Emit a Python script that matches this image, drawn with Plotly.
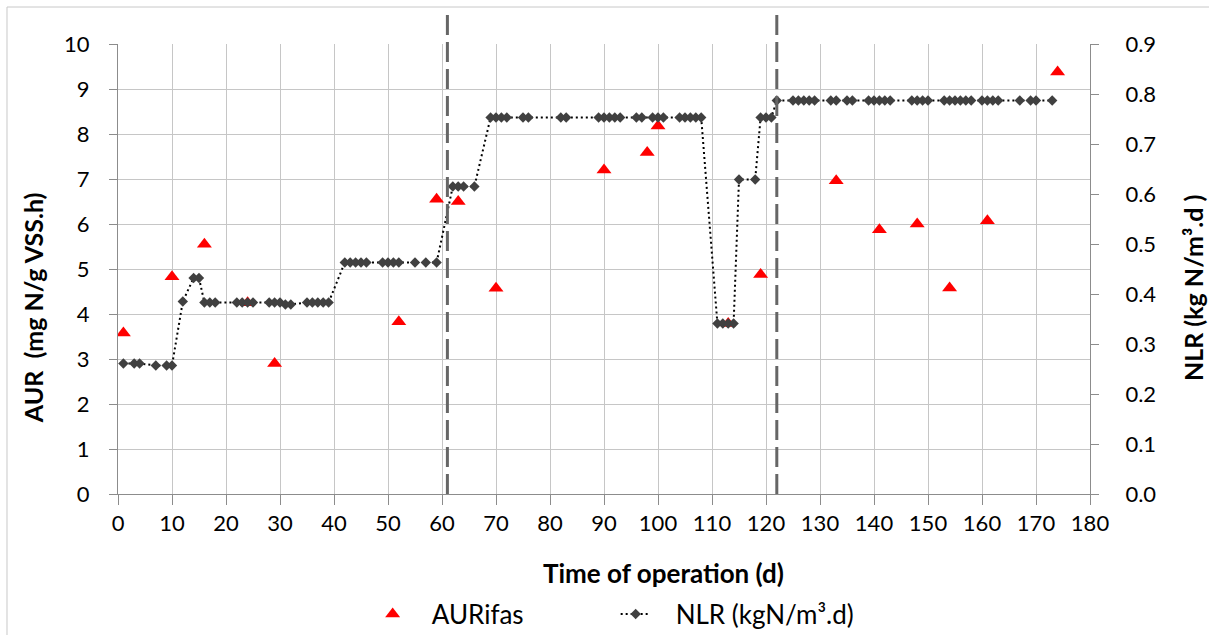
import plotly.graph_objects as go

# Ammonia uptake rate measurements (IFAS reactor)
aur_day = [1, 10, 16, 24, 29, 52, 59, 63, 70, 90, 98, 100, 113, 119, 133, 141, 148, 154, 161, 174]
aur_val = [3.58, 4.83, 5.55, 4.25, 2.9, 3.83, 6.55, 6.5, 4.57, 7.2, 7.59, 8.18, 3.79, 4.88,
           6.96, 5.87, 6.0, 4.58, 6.07, 9.38]

# Nitrogen loading rate applied over time
nlr_day = [1, 3, 4, 7, 9, 10, 12, 14, 15, 16, 17, 18, 22, 23, 24, 25, 28, 29, 30, 31, 32,
           35, 36, 37, 38, 39, 42, 43, 44, 45, 46, 49, 50, 51, 52, 55, 57, 59,
           62, 63, 64, 66, 69, 70, 71, 72, 75, 76, 82, 83, 89, 90, 91, 92, 93, 96, 97,
           99, 100, 101, 104, 105, 106, 107, 108, 111, 112, 113, 114, 115, 118,
           119, 120, 121, 122, 125, 126, 127, 128, 129, 132, 133, 135, 136,
           139, 140, 141, 142, 143, 147, 148, 149, 150, 153, 154, 155, 156, 157, 158,
           160, 161, 162, 163, 167, 169, 170, 173]
nlr_val = [0.261, 0.261, 0.261, 0.257, 0.257, 0.257, 0.385, 0.432, 0.432, 0.383, 0.383, 0.383,
           0.383, 0.383, 0.383, 0.383, 0.383, 0.383, 0.383, 0.379, 0.379,
           0.383, 0.383, 0.383, 0.383, 0.383, 0.463, 0.463, 0.463, 0.463, 0.463,
           0.463, 0.463, 0.463, 0.463, 0.463, 0.463, 0.463,
           0.615, 0.615, 0.615, 0.615, 0.753, 0.753, 0.753, 0.753, 0.753, 0.753, 0.753, 0.753,
           0.753, 0.753, 0.753, 0.753, 0.753, 0.753, 0.753, 0.753, 0.753, 0.753,
           0.753, 0.753, 0.753, 0.753, 0.753, 0.341, 0.341, 0.341, 0.341, 0.629, 0.629,
           0.753, 0.753, 0.753, 0.787, 0.787, 0.787, 0.787, 0.787, 0.787, 0.787, 0.787, 0.787, 0.787,
           0.787, 0.787, 0.787, 0.787, 0.787, 0.787, 0.787, 0.787, 0.787,
           0.787, 0.787, 0.787, 0.787, 0.787, 0.787,
           0.787, 0.787, 0.787, 0.787, 0.787, 0.787, 0.787, 0.787]

# Phase boundaries (days)
phase_breaks = [61, 122]

FONT = "Lato"
GRID = "#c6c6c6"
AXIS = "#8c8c8c"
SP = "\u00a0"

fig = go.Figure()
fig.add_trace(go.Scatter(
    x=aur_day, y=aur_val, mode="markers", name=SP * 3 + "AURifas",
    marker=dict(symbol="triangle-up", size=13, color="#ff0000"),
    yaxis="y",
))
fig.add_trace(go.Scatter(
    x=nlr_day, y=nlr_val, mode="lines+markers", name=SP * 3 + "NLR (kgN/m³.d)",
    line=dict(color="#000000", width=2, dash="2px,3px"),
    marker=dict(symbol="diamond", size=8, color="#404040"),
    yaxis="y2",
))

for d in phase_breaks:
    fig.add_shape(type="line", xref="x", yref="paper", x0=d, x1=d, y0=0, y1=1.08,
                  line=dict(color="#666666", width=3, dash="20px,7px"), layer="above")

# outer chart border
fig.add_shape(type="rect", xref="paper", yref="paper",
              x0=-0.1142, x1=1.13, y0=-0.33, y1=1.0822,
              line=dict(color="#c8c8c8", width=1), layer="below")

fig.add_annotation(text="<b>Time of operation (d)</b>", xref="paper", yref="paper",
                   x=0.5607, y=-0.1756, xanchor="center", yanchor="middle",
                   showarrow=False, font=dict(size=26, color="#000"))
fig.add_annotation(text="<b>AUR \u00a0(mg N/g VSS.h)</b>", xref="paper", yref="paper",
                   x=-0.0874, y=0.413, xanchor="center", yanchor="middle", textangle=-90,
                   showarrow=False, font=dict(size=25, color="#000"))
fig.add_annotation(text="<b>NLR (kg N/m³.d )</b>", xref="paper", yref="paper",
                   x=1.1061, y=0.458, xanchor="center", yanchor="middle", textangle=-90,
                   showarrow=False, font=dict(size=25, color="#000"))

fig.update_layout(
    width=1209, height=635,
    margin=dict(l=118, r=119, t=44, b=141, autoexpand=False),
    paper_bgcolor="white", plot_bgcolor="white",
    font=dict(family=FONT, size=22, color="#000"),
    showlegend=True,
    legend=dict(orientation="h", x=0.262, xanchor="left", y=-0.267, yanchor="middle",
                font=dict(size=26), bgcolor="rgba(0,0,0,0)", entrywidth=198,
                entrywidthmode="pixels"),
    xaxis=dict(range=[0, 180], dtick=10, tick0=0, showgrid=True, gridcolor=GRID, gridwidth=1,
               showline=True, linecolor=AXIS, linewidth=1, ticks="outside", ticklen=10,
               tickcolor=AXIS, zeroline=False),
    yaxis=dict(range=[0, 10], dtick=1, showgrid=True, gridcolor=GRID, gridwidth=1,
               showline=True, linecolor=AXIS, linewidth=1, ticks="outside", ticklen=8,
               tickcolor=AXIS, zeroline=False, ticklabelstandoff=15),
    yaxis2=dict(range=[0, 0.9], dtick=0.1, tickformat=".1f", overlaying="y", side="right",
                showgrid=False, showline=True, linecolor=AXIS, linewidth=1, ticks="outside",
                ticklen=8, tickcolor=AXIS, zeroline=False, ticklabelstandoff=22),
)

fig.write_html("out.html")
